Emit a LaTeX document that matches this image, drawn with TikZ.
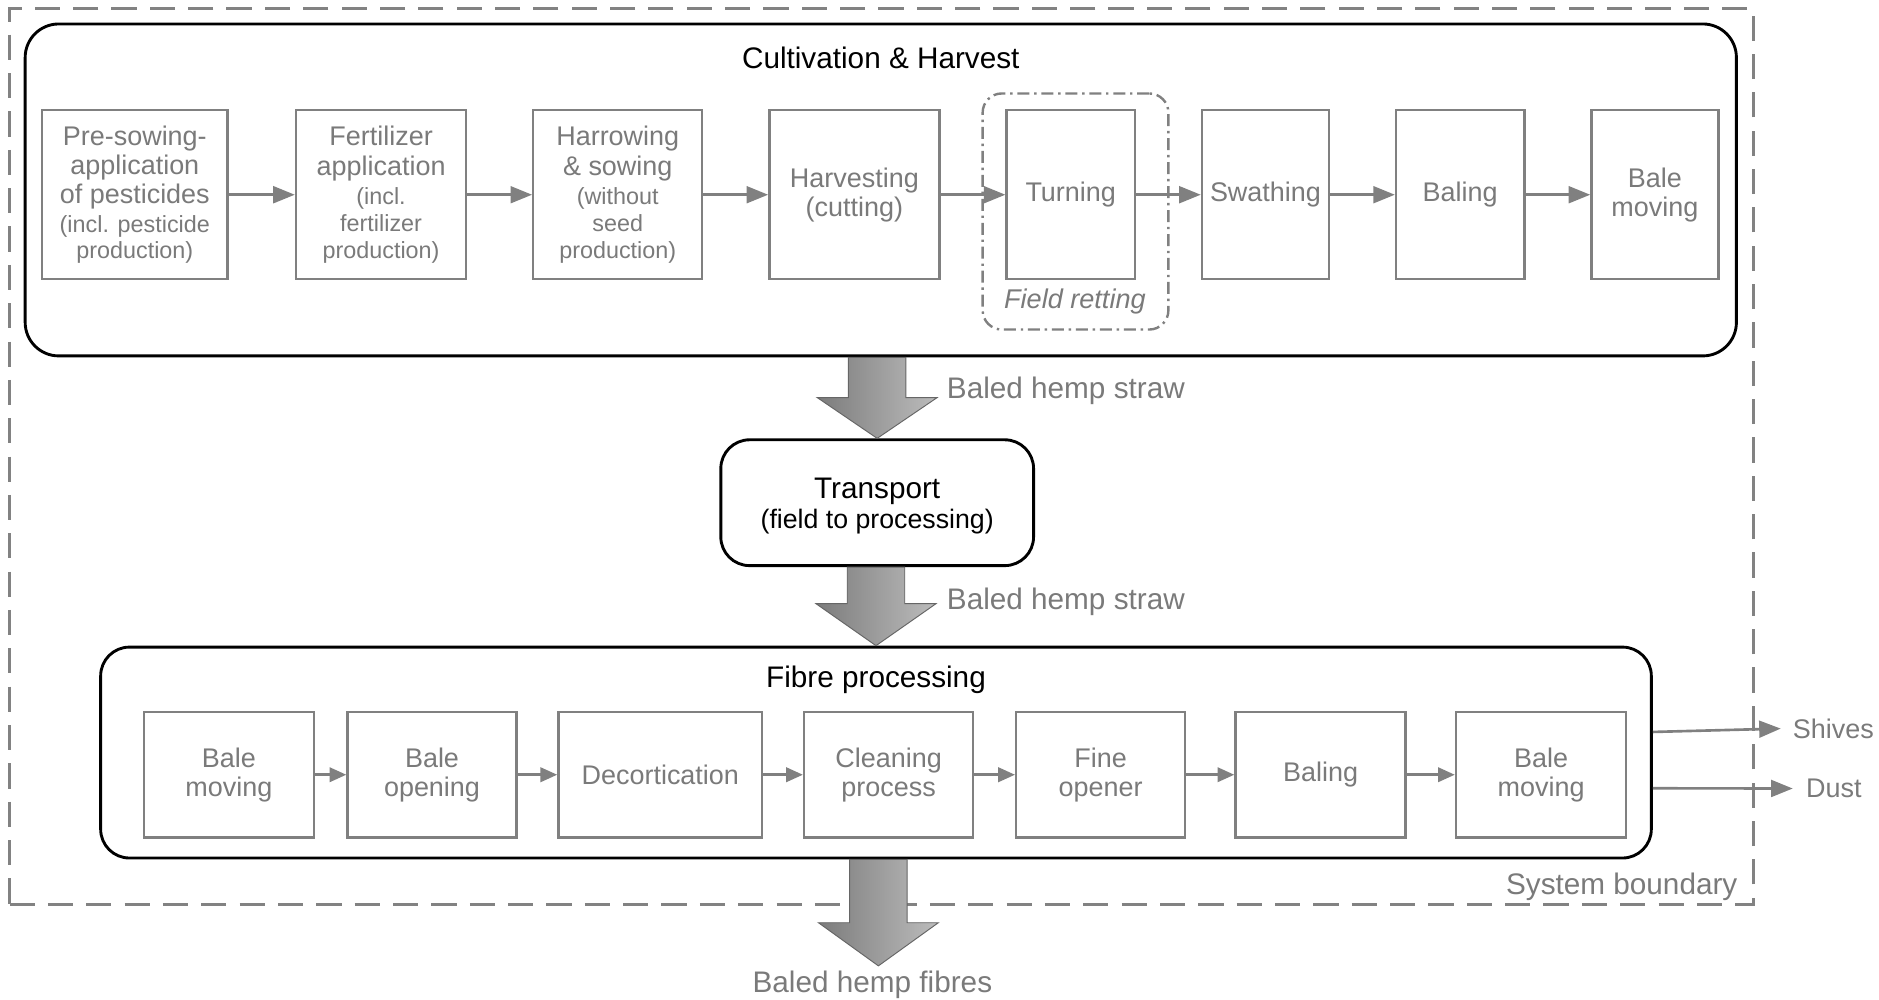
\documentclass[tikz,border=0pt]{standalone}
\usepackage{fontspec}
\setmainfont{Liberation Sans}
\usetikzlibrary{arrows.meta,calc}

\definecolor{boxgray}{HTML}{808080}
\definecolor{txtgray}{HTML}{7A7A7A}
\definecolor{bndgray}{HTML}{828282}
\definecolor{shadedark}{HTML}{7C7C7C}
\definecolor{shadelight}{HTML}{BCBCBC}
\definecolor{arrowedge}{HTML}{666666}

\newcommand\labf{\fontsize{22.5}{24.5}\selectfont}
\newcommand\smallf{\fontsize{19.5}{22}\selectfont}
\newcommand\headf{\fontsize{24.8}{26}\selectfont}

\tikzset{
  stepbox/.style={draw=boxgray, line width=2pt, fill=white, text=txtgray,
    align=center, font=\labf, inner sep=0pt},
  stagebox/.style={draw=black, line width=2.4pt, fill=white, inner sep=0pt},
  flow/.style={draw=boxgray, line width=2.2pt, -{Triangle[length=18pt,width=14pt]}},
  flowsm/.style={draw=boxgray, line width=2.2pt, -{Triangle[length=14pt,width=12pt]}},
  bigarrow/.style={draw=arrowedge, line width=0.8pt, left color=shadedark, right color=shadelight},
  flowlabel/.style={text=txtgray, font=\headf, inner sep=0pt},
  stagetitle/.style={text=black, font=\headf, inner sep=0pt, align=center},
}

\begin{document}
\begin{tikzpicture}[x=1pt, y=-1pt]
\useasboundingbox (0,0) rectangle (1568,834);

% system boundary
\node[draw=bndgray, line width=2.5pt, dash pattern=on 21pt off 11pt,
      minimum width=1455pt, minimum height=748pt, inner sep=0pt] (sb) at (735.5,381) {};
\node[flowlabel, anchor=east] (sbtxt) at (1450,740) {System boundary};

% cultivation and harvest stage
\node[stagebox, rounded corners=28pt, minimum width=1428pt, minimum height=277pt] (cult) at (735,158.5) {};
\node[stagetitle] (culttitle) at (735,48) {Cultivation \& Harvest};

\node[draw=boxgray, line width=2pt, dash pattern=on 10pt off 4pt on 2pt off 4pt,
      rounded corners=16pt, minimum width=155pt, minimum height=197pt, inner sep=0pt] (retting) at (897.5,176.5) {};
\node[text=txtgray, font=\fontsize{22.6}{24}\selectfont\itshape, inner sep=0pt] (rettxt) at (897,252) {Field retting};

\node[stepbox, minimum width=155pt, minimum height=141pt] (c1) at (112.5,162.5)
  {Pre-sowing-\\application\\of pesticides\\[-1pt]{\smallf (incl. pesticide}\\[-2pt]{\smallf production)}};
\node[stepbox, minimum width=142pt, minimum height=141pt] (c2) at (318,162.5)
  {Fertilizer\\application\\{\smallf (incl.}\\[-2pt]{\smallf fertilizer}\\[-2pt]{\smallf production)}};
\node[stepbox, minimum width=141pt, minimum height=141pt] (c3) at (515.5,162.5)
  {Harrowing\\\& sowing\\{\smallf (without}\\[-2pt]{\smallf seed}\\[-2pt]{\smallf production)}};
\node[stepbox, minimum width=142pt, minimum height=141pt] (c4) at (713,162.5) {Harvesting\\(cutting)};
\node[stepbox, minimum width=107pt, minimum height=141pt] (c5) at (893.5,162.5) {Turning};
\node[stepbox, minimum width=106pt, minimum height=141pt] (c6) at (1056,162.5) {Swathing};
\node[stepbox, minimum width=107pt, minimum height=141pt] (c7) at (1218.5,162.5) {Baling};
\node[stepbox, minimum width=106pt, minimum height=141pt] (c8) at (1381,162.5) {Bale\\moving};

\foreach \a/\b in {c1/c2,c2/c3,c3/c4,c4/c5,c5/c6,c6/c7,c7/c8}
  \draw[flow] (\a.east) -- (\b.west);

% transport stage
\node[stagebox, rounded corners=24pt, minimum width=261pt, minimum height=105pt] (trans) at (732,419.5) {};
\node[stagetitle] (transtitle) at (732,410) {Transport};
\node[stagetitle, font=\fontsize{22.3}{24}\selectfont] (transsub) at (732,435) {(field to processing)};

% fibre processing stage
\node[stagebox, rounded corners=24pt, minimum width=1294pt, minimum height=176pt] (fib) at (731,628) {};
\node[stagetitle] (fibtitle) at (731,567) {Fibre processing};

\node[stepbox, minimum width=142pt, minimum height=105pt] (f1) at (191,646.5) {Bale\\moving};
\node[stepbox, minimum width=141pt, minimum height=105pt] (f2) at (360.5,646.5) {Bale\\opening};
\node[stepbox, minimum width=170pt, minimum height=105pt] (f3) at (551,646.5) {Decortication};
\node[stepbox, minimum width=141pt, minimum height=105pt] (f4) at (741.5,646.5) {Cleaning\\process};
\node[stepbox, minimum width=141pt, minimum height=105pt] (f5) at (918.5,646.5) {Fine\\opener};
\node[stepbox, minimum width=142pt, minimum height=105pt] (f6) at (1102,646.5) {Baling};
\node[stepbox, minimum width=142pt, minimum height=105pt] (f7) at (1286,646.5) {Bale\\moving};

\foreach \a/\b in {f1/f2,f2/f3,f3/f4,f4/f5,f5/f6,f6/f7}
  \draw[flowsm] (\a.east) -- (\b.west);

% by-products leaving the system
\node[flowlabel, font=\labf, anchor=west, inner xsep=10pt] (shv) at (1486,608) {Shives};
\node[flowlabel, font=\labf, anchor=west, inner xsep=11pt] (dst) at (1496,658) {Dust};
\draw[flow] ($(fib.north east)+(0,72)$) -- (shv.west);
\draw[flow] ($(fib.north east)+(0,119)$) -- (dst.west);

% material flows between stages
\path[bigarrow] let \p1=(trans.north), \p2=(cult.south) in
  (\x1-24pt,\y2) -- (\x1+24pt,\y2) -- (\x1+24pt,\y1+34pt) -- (\x1+50pt,\y1+34pt)
  -- (\x1,\y1) -- (\x1-50pt,\y1+34pt) -- (\x1-24pt,\y1+34pt) -- cycle;
\node[flowlabel, anchor=west] (straw1) at (790,326) {Baled hemp straw};

\path[bigarrow] let \p1=(fib.north), \p2=(trans.south) in
  (\x1-24pt,\y2) -- (\x1+24pt,\y2) -- (\x1+24pt,\y1+35pt) -- (\x1+50pt,\y1+35pt)
  -- (\x1,\y1) -- (\x1-50pt,\y1+35pt) -- (\x1-24pt,\y1+35pt) -- cycle;
\node[flowlabel, anchor=west] (straw2) at (790,502) {Baled hemp straw};

\coordinate (fibtip) at (733,806);
\path[bigarrow] let \p1=(fibtip), \p2=(fib.south) in
  (\x1-24pt,\y2) -- (\x1+24pt,\y2) -- (\x1+24pt,\y1+36pt) -- (\x1+50pt,\y1+36pt)
  -- (\x1,\y1) -- (\x1-50pt,\y1+36pt) -- (\x1-24pt,\y1+36pt) -- cycle;
\node[flowlabel] (fibres) at (728,822) {Baled hemp fibres};
\end{tikzpicture}
\end{document}
